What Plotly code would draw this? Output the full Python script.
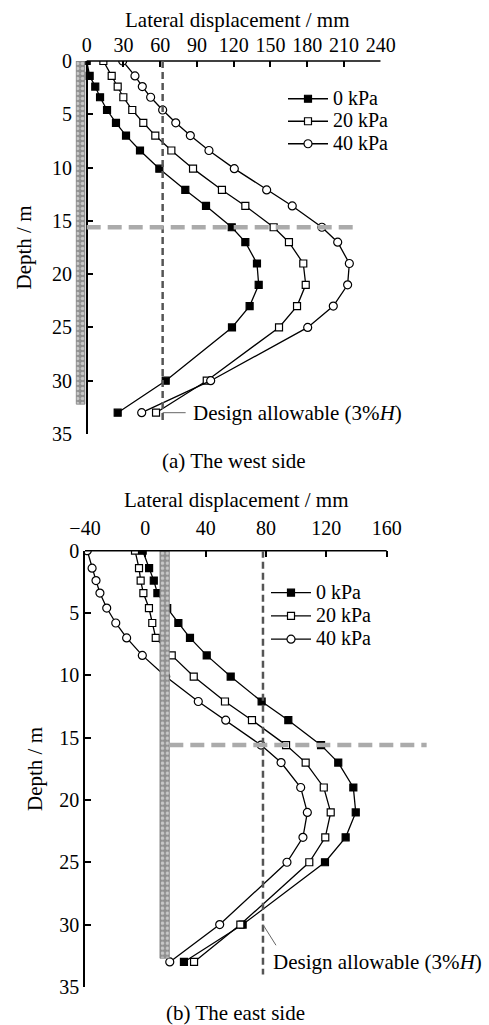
import plotly.graph_objects as go

# ---------------------------------------------------------------------------
# Inclinometer readings: lateral displacement (mm) against depth (m)
# ---------------------------------------------------------------------------
depth_m = [0, 1.4, 2.4, 3.4, 4.6, 5.8, 7.0, 8.4, 10.1, 12.1, 13.6, 15.6,
           17.0, 19.0, 21.0, 23.0, 25.0, 30.0, 33.0]

west_0kpa = [0, 2.4, 7.0, 10.9, 16.6, 23.9, 32.1, 43.5, 59.3, 80.5, 97.4,
             118.4, 129.5, 139.0, 140.4, 133.0, 118.6, 64.5, 25.3]
west_20kpa = [13.6, 20.4, 25.3, 29.9, 37.2, 46.2, 56.0, 69.1, 86.8, 110.4,
              129.5, 152.6, 165.1, 176.8, 178.8, 171.7, 157.0, 98.0, 56.6]
west_40kpa = [29.4, 39.4, 45.4, 52.2, 62.0, 72.7, 84.6, 99.8, 120.5, 146.9,
              167.8, 192.0, 204.9, 214.4, 213.0, 201.3, 180.4, 101.2, 44.9]

east_0kpa = [-1.75, 2.5, 5.6, 8.0, 14.5, 21.9, 29.6, 40.7, 56.6, 77.1, 94.8,
             116.5, 127.9, 137.9, 139.5, 132.8, 119.1, 64.5, 25.6]
east_20kpa = [-6.85, -4.2, -3.1, -1.3, 2.4, 4.6, 6.9, 17.5, 32.1, 52.8, 70.7,
              93.3, 106.3, 118.3, 122.9, 119.3, 108.7, 63.0, 32.3]
east_40kpa = [-38.5, -35.3, -32.7, -30.1, -25.6, -19.6, -12.4, -2.0, 13.5,
              35.1, 53.3, 76.7, 90.0, 103.0, 107.4, 104.5, 93.9, 49.3, 16.2]

load_names = ["0 kPa", "20 kPa", "40 kPa"]

# axis ticks and ranges
west_xticks = [0, 30, 60, 90, 120, 150, 180, 210, 240]
east_xticks = [-40, 0, 40, 80, 120, 160]
depth_ticks = [0, 5, 10, 15, 20, 25, 30, 35]
west_xrange = [-9.5, 240]
east_xrange = [-40, 188]
depth_range = [35, 0]

# retaining pile (x extent in mm, toe depth in m)
west_pile_x = [-8.5, -1.5]
west_pile_toe = 32.2
east_pile_x = [9.7, 15.9]
east_pile_toe = 32.7

# design allowable displacement (3%H) and excavation level
west_allowable = 62
east_allowable = 78
allowable_line_end = 34
excavation_depth = 15.6
west_excav_x = [0, 220]
east_excav_x = [15.9, 186.5]

# ---------------------------------------------------------------------------
W, H = 489, 1025
FONT = "Liberation Serif, Times New Roman, serif"
TEXT_SIZE = 21
LEGEND_TEXT_SIZE = 20

# plot boxes in page pixels: left, right, top, bottom
west_box = (75.06, 380.7, 61.0, 434.0)
east_box = (85.0, 428.9, 550.7, 986.9)


def xdom(b):
    return [b[0] / W, b[1] / W]


def ydom(b):
    return [1 - b[3] / H, 1 - b[2] / H]


def px(x):
    return x / W


def py(y):
    return 1 - y / H


west_xd = xdom(west_box)
# put the west depth axis at zero displacement, the pile sits left of it
west_y_pos = west_xd[0] + (0 - west_xrange[0]) / (west_xrange[1] - west_xrange[0]) * (west_xd[1] - west_xd[0])

styles = [
    dict(symbol="square", color="black", size=7),
    dict(symbol="square", color="white", size=7),
    dict(symbol="circle", color="white", size=8),
]

fig = go.Figure()


def add_side(series, xa, ya, legend):
    for vals, name, st in zip(series, load_names, styles):
        fig.add_trace(go.Scatter(
            x=vals, y=depth_m, mode="lines+markers",
            # legend rows are packed tightly, so the entry text size is set here
            name=f'<span style="font-size:{LEGEND_TEXT_SIZE}px">{name}</span>',
            xaxis=xa, yaxis=ya, legend=legend,
            line=dict(color="black", width=1.3),
            marker=dict(symbol=st["symbol"], size=st["size"], color=st["color"],
                        line=dict(color="black", width=1.2)),
            hoverinfo="skip",
        ))


def add_pile(pile_x, toe, xa, ya):
    fig.add_trace(go.Scatter(
        x=[pile_x[0], pile_x[1], pile_x[1], pile_x[0], pile_x[0]],
        y=[0, 0, toe, toe, 0],
        mode="lines", fill="toself", fillcolor="#909090",
        fillpattern=dict(shape=".", fgcolor="white", bgcolor="#909090",
                         size=5, solidity=0.4),
        line=dict(color="#808080", width=0.8),
        xaxis=xa, yaxis=ya, showlegend=False, hoverinfo="skip",
    ))


add_side([west_0kpa, west_20kpa, west_40kpa], "x", "y", "legend")
add_pile(west_pile_x, west_pile_toe, "x", "y")
add_side([east_0kpa, east_20kpa, east_40kpa], "x2", "y2", "legend2")
add_pile(east_pile_x, east_pile_toe, "x2", "y2")

axis_common = dict(showgrid=False, zeroline=False, ticks="inside", ticklen=6,
                   tickwidth=1.5, tickcolor="black", linecolor="black",
                   linewidth=1.5, tickfont=dict(size=20, family=FONT, color="black"))

legend_common = dict(xanchor="left", yanchor="top", bgcolor="rgba(0,0,0,0)",
                     tracegroupgap=0, itemwidth=40)

fig.update_layout(
    width=W, height=H, autosize=False,
    margin=dict(l=0, r=0, t=0, b=0, pad=0, autoexpand=False),
    paper_bgcolor="white", plot_bgcolor="white",
    font=dict(family=FONT, size=TEXT_SIZE, color="black"),
    xaxis=dict(domain=west_xd, range=west_xrange, side="top", anchor="y",
               showline=False, tickvals=west_xticks, ticklabelstandoff=4,
               **axis_common),
    yaxis=dict(domain=ydom(west_box), range=depth_range, anchor="free",
               position=west_y_pos, showline=True, tickvals=depth_ticks,
               ticklabelstandoff=10, **axis_common),
    xaxis2=dict(domain=xdom(east_box), range=east_xrange, side="top", anchor="y2",
                showline=False, tickvals=east_xticks, ticklabelstandoff=11,
                **axis_common),
    yaxis2=dict(domain=ydom(east_box), range=depth_range, anchor="x2",
                showline=True, tickvals=depth_ticks, ticklabelstandoff=0,
                **axis_common),
    legend=dict(x=px(283), y=py(82.5), font=dict(size=15, family=FONT),
                **legend_common),
    legend2=dict(x=px(266), y=py(576), font=dict(size=15.6, family=FONT),
                 **legend_common),
)

shapes = []
for xa, ya, ticks, allow, ex_x in [("x", "y", west_xticks, west_allowable, west_excav_x),
                                   ("x2", "y2", east_xticks, east_allowable, east_excav_x)]:
    # displacement axis line spans the labelled tick range only
    shapes.append(dict(type="line", xref=xa, yref=ya + " domain",
                       x0=ticks[0], x1=ticks[-1], y0=1, y1=1,
                       line=dict(color="black", width=1.5)))
    # design allowable displacement
    shapes.append(dict(type="line", xref=xa, yref=ya, x0=allow, x1=allow,
                       y0=0, y1=allowable_line_end,
                       line=dict(color="#555555", width=2.5, dash="7px,4px")))
    # excavation level
    shapes.append(dict(type="line", xref=xa, yref=ya, x0=ex_x[0], x1=ex_x[1],
                       y0=excavation_depth, y1=excavation_depth,
                       line=dict(color="#ababab", width=4.5, dash="14px,7px")))
fig.update_layout(shapes=shapes)

label = "Design allowable (3%<i>H</i>)"
ann = [
    # axis titles
    dict(text="Lateral displacement / mm", x=px(237.5), y=py(20), xref="paper", yref="paper",
         showarrow=False, xanchor="center", yanchor="middle"),
    dict(text="Lateral displacement / mm", x=px(236.7), y=py(500), xref="paper", yref="paper",
         showarrow=False, xanchor="center", yanchor="middle"),
    dict(text="Depth / m", x=px(23), y=py(247.5), xref="paper", yref="paper",
         showarrow=False, textangle=-90, xanchor="center", yanchor="middle"),
    dict(text="Depth / m", x=px(35), y=py(769), xref="paper", yref="paper",
         showarrow=False, textangle=-90, xanchor="center", yanchor="middle"),
    # panel captions
    dict(text="(a) The west side", x=px(234), y=py(461), xref="paper", yref="paper",
         showarrow=False, xanchor="center", yanchor="middle"),
    dict(text="(b) The east side", x=px(235), y=py(1013), xref="paper", yref="paper",
         showarrow=False, xanchor="center", yanchor="middle"),
    # leader lines to the allowable-displacement label
    dict(text=" ", x=west_allowable, y=33, xref="x", yref="y", showarrow=True,
         arrowhead=0, arrowwidth=1, arrowcolor="#666666", ax=27, ay=0),
    dict(text=label, x=west_allowable, y=33, xref="x", yref="y", showarrow=False,
         xanchor="left", yanchor="middle", xshift=28),
    dict(text=" ", x=east_allowable, y=30, xref="x2", yref="y2", showarrow=True,
         arrowhead=0, arrowwidth=1, arrowcolor="#666666", ax=17, ay=27),
    dict(text=label, x=east_allowable, y=33, xref="x2", yref="y2", showarrow=False,
         xanchor="left", yanchor="middle", xshift=8),
]
fig.update_layout(annotations=ann)

fig.write_html("out.html")
